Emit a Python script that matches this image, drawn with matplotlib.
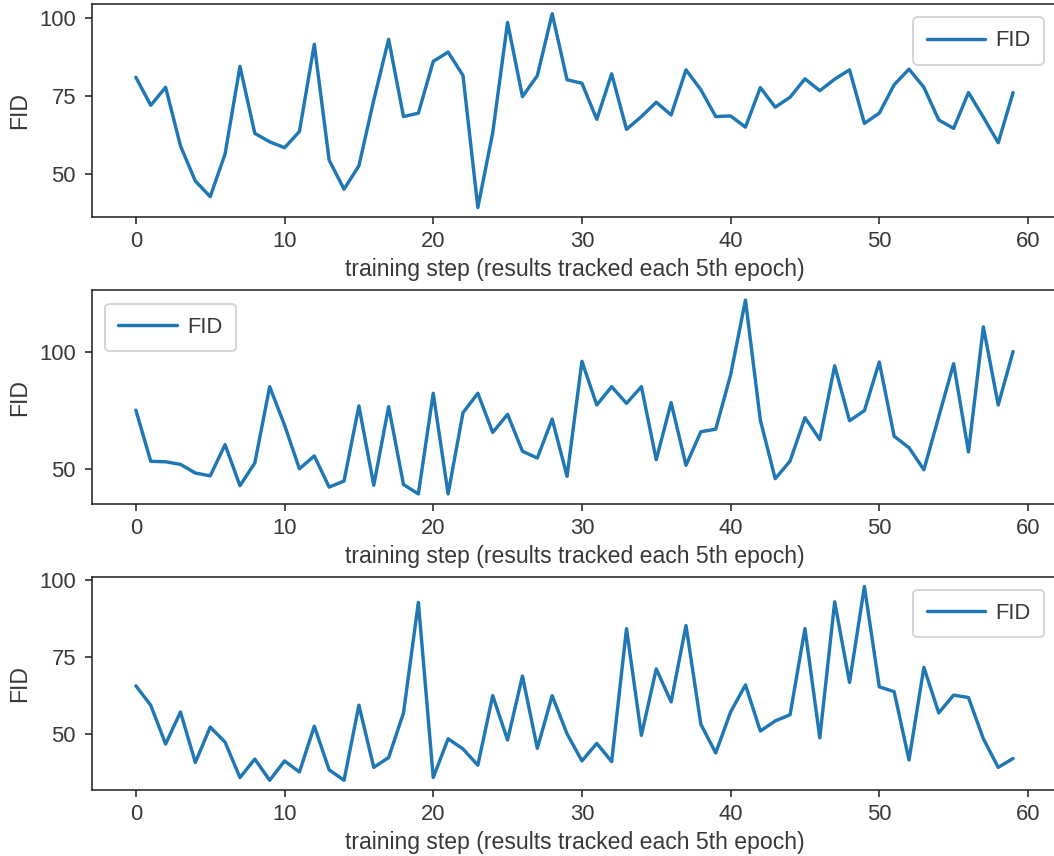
import matplotlib
matplotlib.use("Agg")
import matplotlib.pyplot as plt
import seaborn as sns

# FID values, one per training step (results tracked each 5th epoch)
steps = list(range(60))

fid_run1 = [81.0, 72.0, 77.8, 59.0, 47.7, 42.7, 56.4, 84.5, 63.0, 60.3,
            58.4, 63.6, 91.6, 54.4, 45.1, 52.6, 73.7, 93.2, 68.4, 69.5,
            86.1, 89.1, 81.6, 39.2, 63.2, 98.6, 74.8, 81.5, 101.4, 80.2,
            79.1, 67.5, 82.1, 64.3, 68.4, 73.0, 68.9, 83.4, 77.0, 68.4,
            68.6, 65.0, 77.7, 71.4, 74.6, 80.5, 76.7, 80.4, 83.4, 66.2,
            69.5, 78.6, 83.6, 77.8, 67.3, 64.6, 76.1, 68.2, 60.0, 76.1]

fid_run2 = [75.1, 53.3, 53.1, 52.0, 48.3, 47.1, 60.4, 42.9, 52.6, 85.1,
            68.7, 50.1, 55.6, 42.3, 44.9, 76.9, 43.1, 76.6, 43.4, 39.4,
            82.3, 39.4, 74.0, 82.3, 65.6, 73.3, 57.6, 54.7, 71.3, 46.9,
            95.9, 77.3, 85.1, 78.0, 85.1, 54.0, 78.3, 51.6, 65.9, 67.0,
            90.1, 122.0, 70.9, 45.9, 53.4, 71.9, 62.6, 94.0, 70.6, 74.9,
            95.6, 64.0, 59.1, 49.7, 72.3, 94.9, 57.3, 110.6, 77.3, 100.1]

fid_run3 = [65.6, 59.3, 46.7, 57.1, 40.7, 52.2, 47.3, 35.8, 41.8, 34.9,
            41.2, 37.6, 52.5, 38.3, 34.9, 59.3, 39.1, 42.3, 56.8, 92.7,
            35.8, 48.4, 45.1, 39.8, 62.4, 48.0, 68.8, 45.3, 62.4, 50.0,
            41.2, 46.9, 41.0, 84.2, 49.5, 71.1, 60.4, 85.2, 53.1, 43.8,
            57.1, 65.9, 50.9, 54.2, 56.2, 84.2, 48.7, 92.9, 66.7, 97.9,
            65.3, 63.7, 41.5, 71.6, 56.8, 62.6, 61.8, 48.4, 39.1, 42.0]

runs = [fid_run1, fid_run2, fid_run3]
y_ticks = [[50, 75, 100], [50, 100], [50, 75, 100]]
x_ticks = [0, 10, 20, 30, 40, 50, 60]
legend_locs = ["upper right", "upper left", "upper right"]

sns.set_style("ticks")
plt.rcParams["font.family"] = ["Liberation Sans", "DejaVu Sans"]
plt.rcParams["text.color"] = ".22"
plt.rcParams["axes.labelcolor"] = ".22"
plt.rcParams["xtick.labelcolor"] = ".22"
plt.rcParams["ytick.labelcolor"] = ".22"

fig, axes = plt.subplots(3, 1, figsize=(1054 / 144, 856 / 144), dpi=144)
fig.subplots_adjust(left=0.0873, right=1.0028, top=0.9953, bottom=0.0771,
                    hspace=0.343)

for ax, fid, yt, loc in zip(axes, runs, y_ticks, legend_locs):
    ax.plot(steps, fid, label="FID", color="#1f77b4", linewidth=1.7)
    ax.set_xlabel("training step (results tracked each 5th epoch)",
                  fontsize=11.5, labelpad=3)
    ax.set_ylabel("FID", fontsize=11.5)
    ax.set_xticks(x_ticks)
    ax.set_yticks(yt)
    ax.tick_params(axis="both", labelsize=11)
    ax.tick_params(axis="y", pad=4.5)
    ax.legend(loc=loc, fontsize=11, handlelength=2.67, handletextpad=0.45,
              borderpad=0.6, borderaxespad=0.6)

fig.savefig("out.png", dpi=144)
plt.close(fig)
